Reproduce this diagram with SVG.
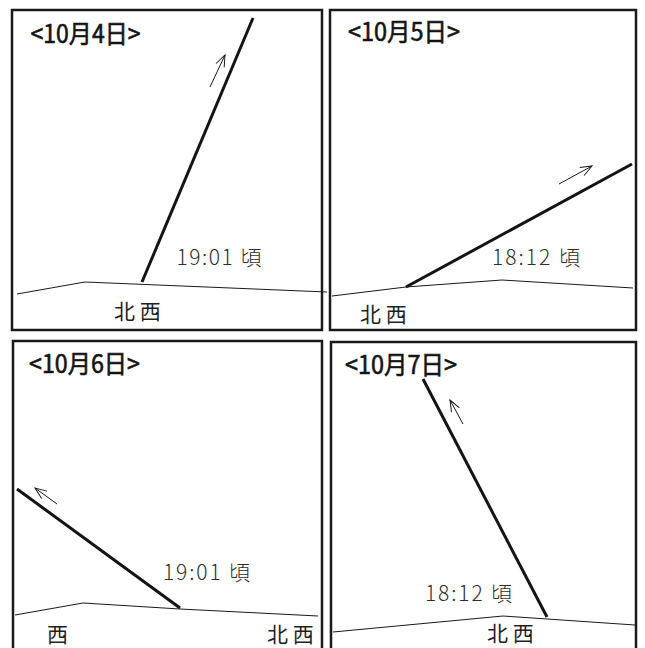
<svg xmlns="http://www.w3.org/2000/svg" width="645" height="648" viewBox="0 0 645 648">
<style>
.frame{fill:none;stroke:#1a1a1a;stroke-width:2.5}
.trail{fill:none;stroke:#141414;stroke-width:3;stroke-linecap:butt}
.horizon{fill:none;stroke:#1a1a1a;stroke-width:1}
.dir{fill:none;stroke:#1a1a1a;stroke-width:1;marker-end:url(#arr)}
.title{font-family:"Noto Sans CJK JP","Noto Sans CJK SC",sans-serif;font-size:25px;font-weight:normal;fill:#141414;stroke:#141414;stroke-width:0.6}
.time{font-family:"Noto Sans CJK JP","Noto Sans CJK SC",sans-serif;font-size:21px;font-weight:300;fill:#2e2e2e}
.comp{font-family:"Noto Sans CJK JP","Noto Sans CJK SC",sans-serif;font-size:21px;fill:#1f1f1f}
</style>
<defs>
<marker id="arr" viewBox="-14 -7 16 14" refX="0" refY="0" markerWidth="16" markerHeight="14" markerUnits="userSpaceOnUse" orient="auto">
<path d="M-11.5,-4.5 L0,0 L-11.5,4.5" fill="none" stroke="#1a1a1a" stroke-width="1"/>
</marker>
</defs>
<rect width="645" height="648" fill="#ffffff"/>

<g id="panel-oct4">
<rect class="frame" x="12" y="10" width="310" height="320"/>
<text class="title" x="30.5" y="43" textLength="110" lengthAdjust="spacingAndGlyphs">&lt;10月4日&gt;</text>
<polyline class="horizon" points="17,294 85,282 327,292"/>
<text class="time" x="176.5" y="265" textLength="85" lengthAdjust="spacing">19:01 頃</text>
<text class="comp" x="114" y="319">北 西</text>
</g>

<g id="panel-oct5">
<rect class="frame" x="330" y="10" width="306" height="320"/>
<text class="title" x="348" y="41" textLength="112" lengthAdjust="spacingAndGlyphs">&lt;10月5日&gt;</text>
<polyline class="horizon" points="332,296 406,287 502,280 633,288"/>
<text class="time" x="492" y="265" textLength="88" lengthAdjust="spacing">18:12 頃</text>
<text class="comp" x="360" y="322">北 西</text>
</g>

<g id="panel-oct6">
<rect class="frame" x="13" y="341" width="309" height="330"/>
<text class="title" x="29" y="373" textLength="111" lengthAdjust="spacingAndGlyphs">&lt;10月6日&gt;</text>
<polyline class="horizon" points="15,615 83,603 180,609 318,616"/>
<text class="time" x="163" y="580" textLength="87" lengthAdjust="spacing">19:01 頃</text>
<text class="comp" x="47" y="642">西</text>
<text class="comp" x="267" y="642">北 西</text>
</g>

<g id="panel-oct7">
<rect class="frame" x="331" y="342" width="305" height="330"/>
<text class="title" x="345" y="374" textLength="112" lengthAdjust="spacingAndGlyphs">&lt;10月7日&gt;</text>
<polyline class="horizon" points="333,632 503,616 635,625"/>
<text class="time" x="425" y="601" textLength="87" lengthAdjust="spacing">18:12 頃</text>
<text class="comp" x="487" y="641">北 西</text>
</g>

<g id="connectors">
<line class="trail" x1="142" y1="282" x2="253" y2="18"/>
<line class="dir" x1="210" y1="87" x2="225" y2="55"/>
<line class="trail" x1="406" y1="287" x2="632" y2="164"/>
<line class="dir" x1="559" y1="184" x2="592" y2="166"/>
<line class="trail" x1="17" y1="489" x2="180" y2="608"/>
<line class="dir" x1="57" y1="504" x2="35" y2="488"/>
<line class="trail" x1="423" y1="379" x2="547" y2="617"/>
<line class="dir" x1="463" y1="424" x2="450" y2="400"/>
</g>
</svg>
